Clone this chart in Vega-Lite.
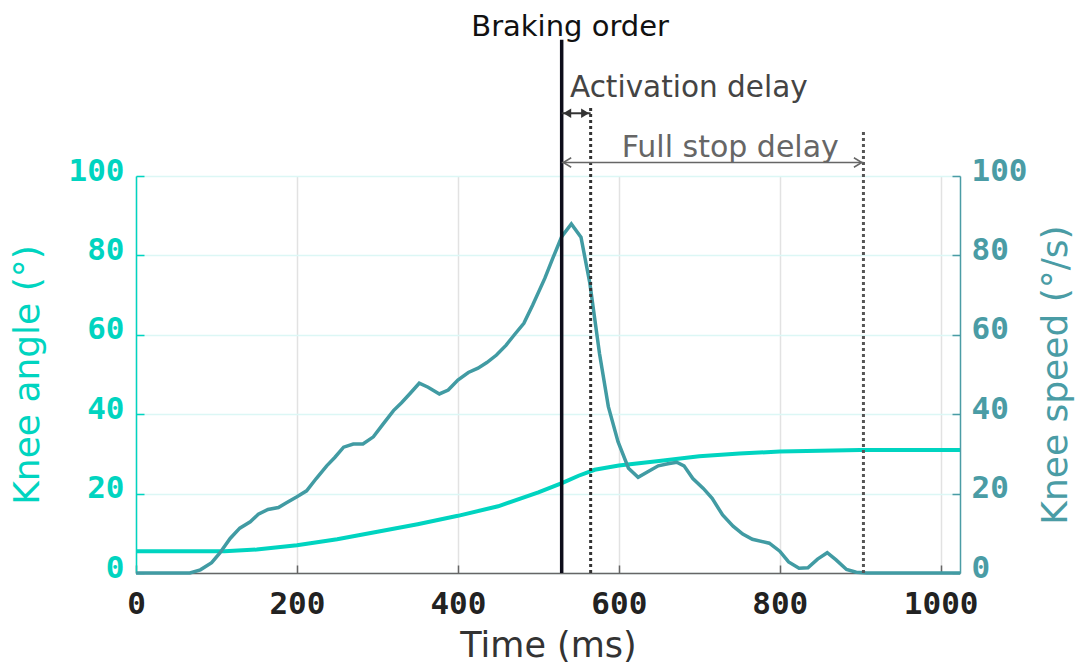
{
  "$schema": "https://vega.github.io/schema/vega-lite/v6.json",
  "width": 824,
  "height": 397,
  "autosize": {"type": "none"},
  "padding": {"left": 136, "top": 176, "right": 121, "bottom": 92},
  "background": "white",
  "config": {"view": {"stroke": null}, "font": "DejaVu Sans"},
  "datasets": {
    "angle": [
      {"t": 0, "v": 5.5}, {"t": 110, "v": 5.5}, {"t": 150, "v": 5.9}, {"t": 200, "v": 7.0},
      {"t": 250, "v": 8.5}, {"t": 300, "v": 10.4}, {"t": 350, "v": 12.3}, {"t": 400, "v": 14.4},
      {"t": 450, "v": 16.8}, {"t": 500, "v": 20.3}, {"t": 530, "v": 22.7}, {"t": 550, "v": 24.5},
      {"t": 570, "v": 26.0}, {"t": 600, "v": 27.1}, {"t": 650, "v": 28.2}, {"t": 700, "v": 29.4},
      {"t": 750, "v": 30.1}, {"t": 800, "v": 30.6}, {"t": 850, "v": 30.8}, {"t": 900, "v": 31.0},
      {"t": 1024, "v": 31.0}
    ],
    "speed": [
      {"t": 0, "v": 0}, {"t": 67, "v": 0}, {"t": 80, "v": 0.8}, {"t": 94, "v": 2.6}, {"t": 104, "v": 5.0},
      {"t": 117, "v": 8.7}, {"t": 129, "v": 11.3}, {"t": 142, "v": 12.9}, {"t": 152, "v": 14.8},
      {"t": 164, "v": 16.0}, {"t": 177, "v": 16.5}, {"t": 187, "v": 17.7}, {"t": 200, "v": 19.2},
      {"t": 212, "v": 20.7}, {"t": 224, "v": 23.8}, {"t": 237, "v": 27.0}, {"t": 247, "v": 29.1},
      {"t": 258, "v": 31.7}, {"t": 270, "v": 32.5}, {"t": 282, "v": 32.5}, {"t": 295, "v": 34.3},
      {"t": 307, "v": 37.5}, {"t": 320, "v": 40.9}, {"t": 330, "v": 42.9}, {"t": 340, "v": 45.1},
      {"t": 352, "v": 47.8}, {"t": 363, "v": 46.8}, {"t": 377, "v": 45.1}, {"t": 388, "v": 46.1},
      {"t": 400, "v": 48.6}, {"t": 413, "v": 50.5}, {"t": 425, "v": 51.6}, {"t": 436, "v": 53.0},
      {"t": 448, "v": 54.9}, {"t": 460, "v": 57.4}, {"t": 471, "v": 60.2}, {"t": 482, "v": 62.9},
      {"t": 493, "v": 67.5}, {"t": 508, "v": 74.2}, {"t": 518, "v": 79.3}, {"t": 529, "v": 84.7},
      {"t": 541, "v": 87.9}, {"t": 553, "v": 84.6}, {"t": 564, "v": 73.0}, {"t": 576, "v": 55.3},
      {"t": 587, "v": 41.9}, {"t": 599, "v": 33.1}, {"t": 612, "v": 26.4}, {"t": 624, "v": 24.1},
      {"t": 636, "v": 25.5}, {"t": 649, "v": 27.0}, {"t": 661, "v": 27.5}, {"t": 672, "v": 27.9},
      {"t": 681, "v": 27.0}, {"t": 692, "v": 23.8}, {"t": 705, "v": 21.3}, {"t": 716, "v": 18.8},
      {"t": 729, "v": 14.6}, {"t": 742, "v": 11.8}, {"t": 754, "v": 9.8}, {"t": 766, "v": 8.5},
      {"t": 787, "v": 7.5}, {"t": 800, "v": 5.5}, {"t": 811, "v": 2.8}, {"t": 824, "v": 1.2},
      {"t": 835, "v": 1.3}, {"t": 847, "v": 3.5}, {"t": 859, "v": 5.1}, {"t": 870, "v": 3.3},
      {"t": 883, "v": 0.9}, {"t": 895, "v": 0.2}, {"t": 908, "v": 0}, {"t": 1024, "v": 0}
    ]
  },
  "layer": [
    {
      "data": {"name": "angle"},
      "mark": {"type": "line", "color": "#00d4c0", "strokeWidth": 4},
      "encoding": {
        "x": {
          "field": "t", "type": "quantitative",
          "scale": {"domain": [0, 1024], "nice": false, "zero": false},
          "axis": {
            "title": "Time (ms)", "values": [0, 200, 400, 600, 800, 1000], "format": "d",
            "grid": true, "gridColor": "#e2e2e2", "gridWidth": 1.5,
            "domainColor": "#666666", "domainWidth": 1.5,
            "tickColor": "#666666", "tickSize": -8, "tickWidth": 1.5,
            "labelFont": "DejaVu Sans Mono", "labelFontWeight": "bold", "labelFontSize": 31,
            "labelColor": "#222222", "labelPadding": 24, "labelFlush": false,
            "titleFont": "DejaVu Sans", "titleFontSize": 35, "titleFontWeight": "normal",
            "titleColor": "#333333", "titlePadding": 9
          }
        },
        "y": {
          "field": "v", "type": "quantitative",
          "scale": {"domain": [0, 100], "nice": false},
          "axis": {
            "orient": "left", "title": "Knee angle (°)", "values": [0, 20, 40, 60, 80, 100],
            "grid": true, "gridColor": "#dcf7f5", "gridWidth": 1.5,
            "domainColor": "#00d4c0", "domainWidth": 1.5,
            "tickColor": "#00d4c0", "tickSize": -8, "tickWidth": 1.5,
            "labelFont": "DejaVu Sans Mono", "labelFontWeight": "bold", "labelFontSize": 31,
            "labelColor": "#00d4c0", "labelPadding": 20, "labelOffset": -5, "labelFlush": false,
            "titleFont": "DejaVu Sans", "titleFontSize": 36, "titleFontWeight": "normal",
            "titleColor": "#00d4c0", "titlePadding": 22
          }
        }
      }
    },
    {
      "encoding": {
        "x": {"field": "t", "type": "quantitative", "scale": {"domain": [0, 1024], "nice": false, "zero": false}},
        "y": {
          "field": "v", "type": "quantitative",
          "scale": {"domain": [0, 100], "nice": false},
          "axis": {
            "orient": "right", "title": "Knee speed (°/s)", "values": [0, 20, 40, 60, 80, 100],
            "grid": false,
            "domainColor": "#4a9ca5", "domainWidth": 1.5,
            "tickColor": "#4a9ca5", "tickSize": -8, "tickWidth": 1.5,
            "labelFont": "DejaVu Sans Mono", "labelFontWeight": "bold", "labelFontSize": 31,
            "labelColor": "#4a9ca5", "labelPadding": 19, "labelOffset": -5, "labelFlush": false,
            "titleFont": "DejaVu Sans", "titleFontSize": 36, "titleFontWeight": "normal",
            "titleColor": "#4a9ca5", "titlePadding": 12, "titleAngle": 270, "titleBaseline": "top"
          }
        }
      },
      "layer": [
        {
          "data": {"name": "speed"},
          "mark": {"type": "line", "color": "#419ba3", "strokeWidth": 3.5}
        },
        {
          "data": {"values": [{"t": 529, "v": 0, "v2": 134.3}]},
          "mark": {"type": "rule", "color": "#0d0d1a", "strokeWidth": 3.5},
          "encoding": {"y2": {"field": "v2"}}
        },
        {
          "data": {"values": [{"t": 565, "v": 0, "v2": 117.9}]},
          "mark": {"type": "rule", "color": "#333333", "strokeWidth": 3, "strokeDash": [3, 3]},
          "encoding": {"y2": {"field": "v2"}}
        },
        {
          "data": {"values": [{"t": 904, "v": 0, "v2": 111.2}]},
          "mark": {"type": "rule", "color": "#555555", "strokeWidth": 3, "strokeDash": [3, 3]},
          "encoding": {"y2": {"field": "v2"}}
        },
        {
          "data": {"values": [{"t": 529, "v": 115.8, "t2": 565}]},
          "mark": {"type": "rule", "color": "#333333", "strokeWidth": 2},
          "encoding": {"x2": {"field": "t2"}}
        },
        {
          "data": {"values": [{"t": 529, "v": 103.4, "t2": 904}]},
          "mark": {"type": "rule", "color": "#666666", "strokeWidth": 1.5},
          "encoding": {"x2": {"field": "t2"}}
        },
        {
          "data": {"values": [{"t": 531, "v": 115.8}]},
          "mark": {"type": "point", "shape": "M 1 -0.6 L 0 0 L 1 0.6 Z", "size": 250, "filled": true, "color": "#333333", "opacity": 1}
        },
        {
          "data": {"values": [{"t": 563, "v": 115.8}]},
          "mark": {"type": "point", "shape": "M -1 -0.6 L 0 0 L -1 0.6 Z", "size": 250, "filled": true, "color": "#333333", "opacity": 1}
        },
        {
          "data": {"values": [{"t": 531, "v": 103.4}]},
          "mark": {"type": "point", "shape": "M 1 -0.6 L 0 0 L 1 0.6", "size": 250, "filled": false, "color": "#666666", "strokeWidth": 1.5, "opacity": 1}
        },
        {
          "data": {"values": [{"t": 902, "v": 103.4}]},
          "mark": {"type": "point", "shape": "M -1 -0.6 L 0 0 L -1 0.6", "size": 250, "filled": false, "color": "#666666", "strokeWidth": 1.5, "opacity": 1}
        },
        {
          "data": {"values": [{"t": 539.5, "v": 135.3, "label": "Braking order"}]},
          "mark": {"type": "text", "align": "center", "baseline": "alphabetic", "font": "DejaVu Sans", "fontSize": 29, "color": "#111111"},
          "encoding": {"text": {"field": "label"}}
        },
        {
          "data": {"values": [{"t": 687, "v": 119.9, "label": "Activation delay"}]},
          "mark": {"type": "text", "align": "center", "baseline": "alphabetic", "font": "DejaVu Sans", "fontSize": 29.5, "color": "#444444"},
          "encoding": {"text": {"field": "label"}}
        },
        {
          "data": {"values": [{"t": 738.5, "v": 104.9, "label": "Full stop delay"}]},
          "mark": {"type": "text", "align": "center", "baseline": "alphabetic", "font": "DejaVu Sans", "fontSize": 30, "color": "#666666"},
          "encoding": {"text": {"field": "label"}}
        }
      ]
    }
  ],
  "resolve": {"scale": {"y": "independent"}, "axis": {"y": "independent"}}
}
